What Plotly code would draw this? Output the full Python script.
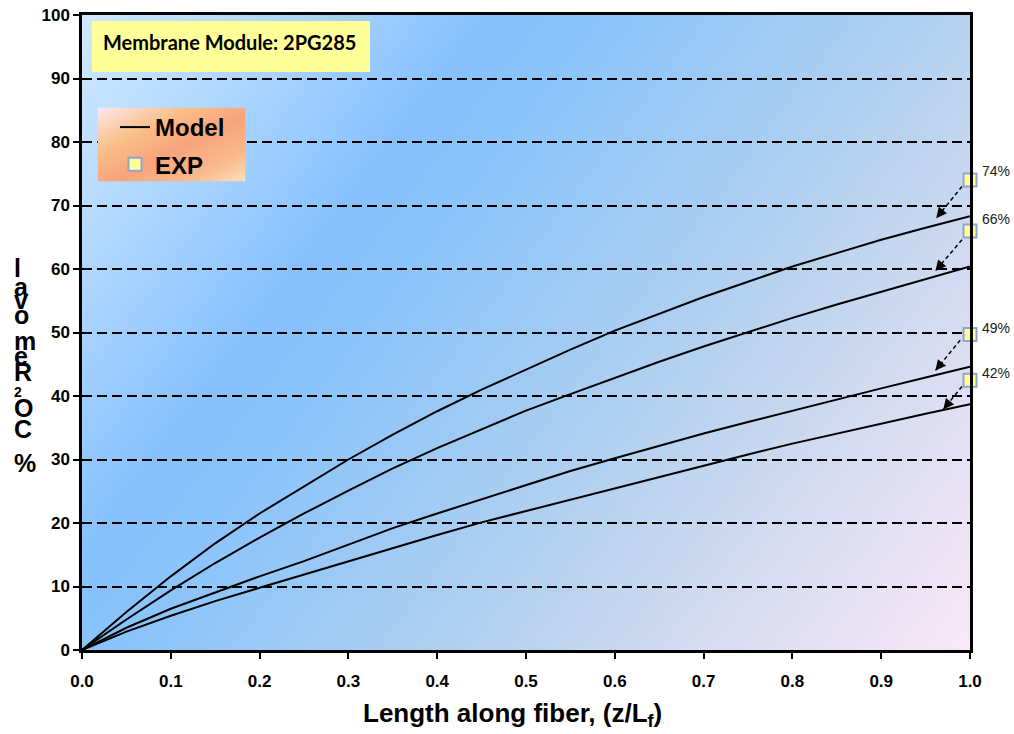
import numpy as np
import plotly.graph_objects as go

# ---------------- data ----------------
z_pos = [0.0, 0.05, 0.1, 0.15, 0.2, 0.25, 0.3, 0.35, 0.4, 0.45, 0.5,
         0.55, 0.6, 0.65, 0.7, 0.75, 0.8, 0.85, 0.9, 0.95, 1.0]
model_74 = [0, 6.0, 11.6, 16.8, 21.5, 25.8, 30.0, 33.9, 37.6, 41.0, 44.2,
            47.3, 50.3, 53.0, 55.6, 58.0, 60.4, 62.5, 64.6, 66.5, 68.3]
model_66 = [0, 4.8, 9.4, 13.7, 17.7, 21.5, 25.1, 28.6, 31.8, 34.8, 37.7,
            40.3, 42.9, 45.4, 47.8, 50.1, 52.3, 54.4, 56.4, 58.4, 60.4]
model_49 = [0, 3.5, 6.5, 9.1, 11.6, 14.0, 16.6, 19.2, 21.5, 23.7, 25.9,
            28.2, 30.2, 32.2, 34.1, 35.9, 37.7, 39.5, 41.2, 42.9, 44.6]
model_42 = [0, 2.9, 5.4, 7.7, 9.8, 11.9, 14.0, 16.0, 18.1, 20.1, 21.9,
            23.7, 25.5, 27.3, 29.1, 30.8, 32.5, 34.1, 35.7, 37.2, 38.7]
models = [model_74, model_66, model_49, model_42]

exp_x = [1.0, 1.0, 1.0, 1.0]
exp_y = [74.0, 66.0, 49.7, 42.5]
exp_labels = ["74%", "66%", "49%", "42%"]
label_yshift = [9, 12, 6, 7]

# dashed pointer arrows (tail -> head) in data units
arrow_x0 = [0.991, 0.991, 0.989, 0.991]
arrow_y0 = [73.0, 64.6, 48.8, 41.5]
arrow_x1 = [0.962, 0.961, 0.961, 0.970]
arrow_y1 = [68.0, 59.7, 44.0, 37.9]

x_ticks = [0.0, 0.1, 0.2, 0.3, 0.4, 0.5, 0.6, 0.7, 0.8, 0.9, 1.0]
y_ticks = [0, 10, 20, 30, 40, 50, 60, 70, 80, 90, 100]

ytitle_chars = ["l", "a", "v", "o", "m", "e", "R", "2", "O", "C", "%"]
ytitle_px = [268, 287, 300, 315, 341, 356, 372, 392, 408, 429, 463]
ytitle_size = [25, 25, 25, 25, 25, 25, 25, 14, 25, 25, 25]

# ---------------- geometry helpers (pixel -> paper) ----------------
W, H = 1014, 734
L, R, T, B = 82, 44, 15, 84
PW, PH = W - L - R, H - T - B


def px_x(px):
    return (px - L) / PW


def px_y(py):
    return (H - B - py) / PH


fig = go.Figure()

# background gradient (separate hidden subplot underneath)
gx = np.linspace(0, 1, 41)
gy = np.linspace(0, 100, 41)
S = 0.65 * gx[None, :] + 0.35 * (1 - gy[:, None] / 100)
bg_scale = [[0.0, '#cfe8ff'], [0.12, '#b6dbff'], [0.24, '#96c9ff'],
            [0.3, '#86c1fe'], [0.38, '#8bc4fb'], [0.5, '#9dcaf5'],
            [0.65, '#b6d2ef'], [0.8, '#d5dbf1'], [1.0, '#fae8f7']]
fig.add_trace(go.Heatmap(x=gx, y=gy, z=S, zmin=0, zmax=1, colorscale=bg_scale,
                         zsmooth='best', showscale=False, hoverinfo='skip',
                         xaxis='x', yaxis='y'))

# model curves
for i, m in enumerate(models):
    fig.add_trace(go.Scatter(x=z_pos, y=m, mode='lines', name='Model',
                             line=dict(color='black', width=2),
                             legendgroup='model', showlegend=(i == 0),
                             xaxis='x2', yaxis='y2'))

# dashed arrow shafts
for i in range(len(arrow_x0)):
    fig.add_trace(go.Scatter(x=[arrow_x0[i], arrow_x1[i]], y=[arrow_y0[i], arrow_y1[i]],
                             mode='lines', showlegend=False, hoverinfo='skip',
                             line=dict(color='black', width=1.5, dash='4px,3px'),
                             xaxis='x2', yaxis='y2'))

# experimental points
fig.add_trace(go.Scatter(x=exp_x, y=exp_y, mode='markers', name='EXP',
                         legendgroup='exp',
                         marker=dict(symbol='square', size=13, color='#ffff99',
                                     line=dict(color='#8ea6cf', width=2)),
                         cliponaxis=False, xaxis='x2', yaxis='y2'))

# legend gradient box (hidden subplot on top)
lg = np.array([0.0, 0.5, 1.0])
LS = (lg[None, :] + 1 - lg[:, None]) / 2
leg_scale = [[0.0, '#fde6f0'], [0.3, '#f9c088'], [0.55, '#f8a47c'],
             [0.8, '#f9bb8e'], [1.0, '#fde2c0']]
fig.add_trace(go.Heatmap(x=lg, y=lg, z=LS, zmin=0, zmax=1, colorscale=leg_scale,
                         zsmooth='best', showscale=False, hoverinfo='skip',
                         xaxis='x3', yaxis='y3'))

annotations = []
# arrow heads
for i in range(len(arrow_x0)):
    annotations.append(dict(
        x=arrow_x1[i], y=arrow_y1[i], xref='x2', yref='y2',
        ax=arrow_x1[i] + 0.3 * (arrow_x0[i] - arrow_x1[i]),
        ay=arrow_y1[i] + 0.3 * (arrow_y0[i] - arrow_y1[i]),
        axref='x2', ayref='y2', text='', showarrow=True,
        arrowhead=2, arrowsize=1.4, arrowwidth=1.5, arrowcolor='black'))
# percentage labels
for i in range(len(exp_labels)):
    annotations.append(dict(
        x=exp_x[i], y=exp_y[i], xref='x2', yref='y2', text=exp_labels[i],
        showarrow=False, xshift=26, yshift=label_yshift[i],
        xanchor='center', yanchor='middle',
        font=dict(family='Arial', size=14, color='#222222')))
# module text
annotations.append(dict(
    x=px_x(229), y=px_y(42), xref='paper', yref='paper',
    xanchor='center', yanchor='middle',
    text='Membrane Module: 2PG285', showarrow=False,
    font=dict(family='Lato', size=20, color='black', weight='bold')))
# x title
annotations.append(dict(
    x=px_x(512), y=px_y(714), xref='paper', yref='paper',
    xanchor='center', yanchor='middle',
    text='Length along fiber, (z/L<sub>f</sub>)', showarrow=False,
    font=dict(family='Arial', size=26, color='black', weight='bold')))
# y title (stacked characters)
for ch, py, fs in zip(ytitle_chars, ytitle_px, ytitle_size):
    annotations.append(dict(
        x=px_x(12), y=px_y(py), xref='paper', yref='paper', xanchor='left',
        yanchor='middle', text=ch, showarrow=False,
        font=dict(family='Arial', size=fs, color='black', weight='bold')))

shapes = [dict(type='rect', xref='paper', yref='paper',
               x0=px_x(92), x1=px_x(370), y0=px_y(72), y1=px_y(21),
               fillcolor='#ffff99', line=dict(width=0), layer='above')]

tickfont = dict(family='Arial', size=17, color='black', weight='bold')

fig.update_layout(
    width=W, height=H, margin=dict(l=L, r=R, t=T, b=B, autoexpand=False),
    paper_bgcolor='white', plot_bgcolor='rgba(0,0,0,0)',
    showlegend=True,
    legend=dict(x=px_x(115), y=px_y(105), xanchor='left', yanchor='top',
                bgcolor='rgba(0,0,0,0)', borderwidth=0, itemwidth=30,
                traceorder='grouped', tracegroupgap=3,
                font=dict(family='Arial', size=24, color='black', weight='bold')),
    xaxis=dict(domain=[0, 1], range=[0, 1], visible=False, anchor='y', automargin=False),
    yaxis=dict(domain=[0, 1], range=[0, 100], visible=False, anchor='x', automargin=False),
    xaxis2=dict(domain=[0, 1], range=[0, 1], anchor='y2', automargin=False,
                tickmode='array', tickvals=x_ticks, tickformat='.1f',
                ticks='outside', ticklen=6, tickwidth=2, tickcolor='black',
                ticklabelstandoff=8,
                showline=True, linecolor='black', linewidth=2.5, mirror=True,
                showgrid=False, zeroline=False, tickfont=tickfont),
    yaxis2=dict(domain=[0, 1], range=[0, 100], anchor='x2', automargin=False,
                tickmode='array', tickvals=y_ticks,
                ticks='outside', ticklen=6, tickwidth=2, tickcolor='black',
                showline=True, linecolor='black', linewidth=2.5, mirror=True,
                showgrid=True, gridcolor='black', gridwidth=2, griddash='10px,5px',
                zeroline=False, tickfont=tickfont),
    xaxis3=dict(domain=[px_x(97.5), px_x(245.5)], range=[0, 1], visible=False,
                anchor='y3', automargin=False),
    yaxis3=dict(domain=[px_y(181.5), px_y(107.5)], range=[0, 1], visible=False,
                anchor='x3', automargin=False),
    annotations=annotations, shapes=shapes,
)

fig.write_html("out.html")
